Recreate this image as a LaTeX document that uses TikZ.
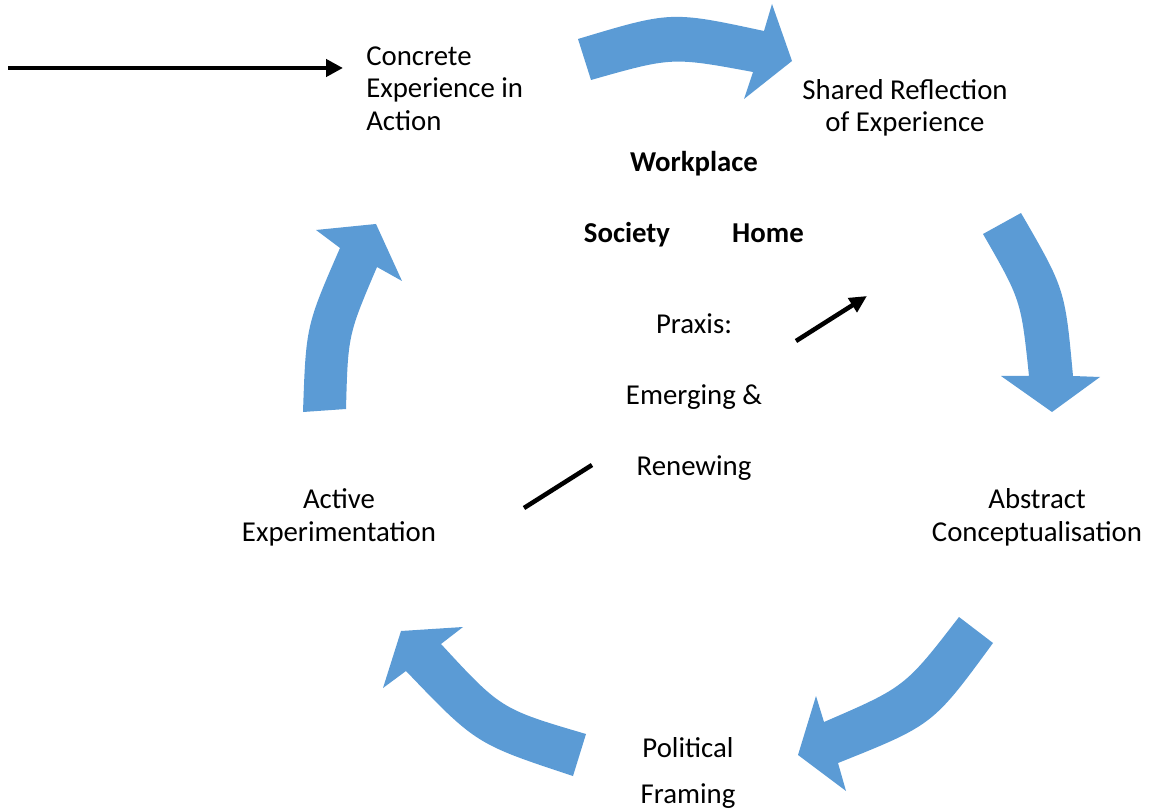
\documentclass[tikz,border=0pt]{standalone}
\usepackage{fontspec}
\setmainfont{Carlito}
\usetikzlibrary{arrows.meta}

\definecolor{cycleblue}{RGB}{91,155,213}

\tikzset{
    lbl/.style={inner sep=0pt, font=\fontsize{21.6}{24.4}\selectfont},
    hub/.style={lbl, font=\fontsize{21.6}{24.4}\selectfont\bfseries},
    cyclearrow/.style={fill=cycleblue, draw=none},
    pointer/.style={line width=3.4pt, black},
}

\begin{document}
\begin{tikzpicture}[x=0.75pt,y=-0.75pt]
    \useasboundingbox (0,0) rectangle (1150,809);

    % the five stages round the cycle (base = last line)
    \node[lbl, anchor=base west, align=left] (concrete) at (366,130.5)
        {Concrete\\Experience in\\Action};
    \node[lbl, anchor=base, align=center] (shared) at (905,132)
        {Shared Reflection\\of Experience};
    \node[lbl, anchor=base, align=center] (abstract) at (1037,541)
        {Abstract\\Conceptualisation};
    \node[lbl, anchor=base, align=center] (political) at (688,803)
        {Political\\[10pt]Framing};
    \node[lbl, anchor=base, align=center] (active) at (339,541)
        {Active\\Experimentation};

    % middle
    \node[hub, anchor=base] (workplace) at (694,172) {Workplace};
    \node[hub, anchor=base] (society) at (627,243) {Society};
    \node[hub, anchor=base] (home) at (768,243) {Home};
    \node[lbl, anchor=base, align=center] (praxis) at (694,475)
        {Praxis:\\[28.5pt]Emerging \&\\[28.5pt]Renewing};

    % blue arrows
    \fill[cyclearrow] (578,39) .. controls (671,11) .. (764,31) -- (772,4)
        -- (792,61) -- (744,99) -- (753,72) .. controls (672,57) .. (591,80) -- cycle;
    \fill[cyclearrow] (1021,213) .. controls (1065,289) .. (1073,376) -- (1100,377)
        -- (1052,412) -- (1001,376) -- (1029,376) .. controls (1021,300) .. (983,234) -- cycle;
    \fill[cyclearrow] (993,643) .. controls (933,725) .. (838,763) -- (846,791)
        -- (798,755) -- (816,696) -- (824,722) .. controls (905,687) .. (959,617) -- cycle;
    \fill[cyclearrow] (586,734) .. controls (501,709) .. (441,644) -- (463,627)
        -- (401,631) -- (383,688) -- (406,671) .. controls (476,744) .. (573,776) -- cycle;
    \fill[cyclearrow] (346,409) .. controls (348,335) .. (377,267) -- (402,281)
        -- (376,224) -- (316,230) -- (340,248) .. controls (306,326) .. (303,412) -- cycle;

    % black pointers
    \coordinate (entry) at (8,68);
    \coordinate (entryend) at (343,68);
    \coordinate (upfrom) at (796,341);
    \coordinate (upto) at (867,296);
    \coordinate (lowfrom) at (524,508);
    \coordinate (lowto) at (592,465);
    \draw[pointer, -{Triangle[length=12.75pt,width=12.75pt]}] (entry) -- (entryend);
    \draw[pointer, -{Triangle[length=13pt,width=12pt]}] (upfrom) -- (upto);
    \draw[pointer] (lowfrom) -- (lowto);
\end{tikzpicture}
\end{document}
